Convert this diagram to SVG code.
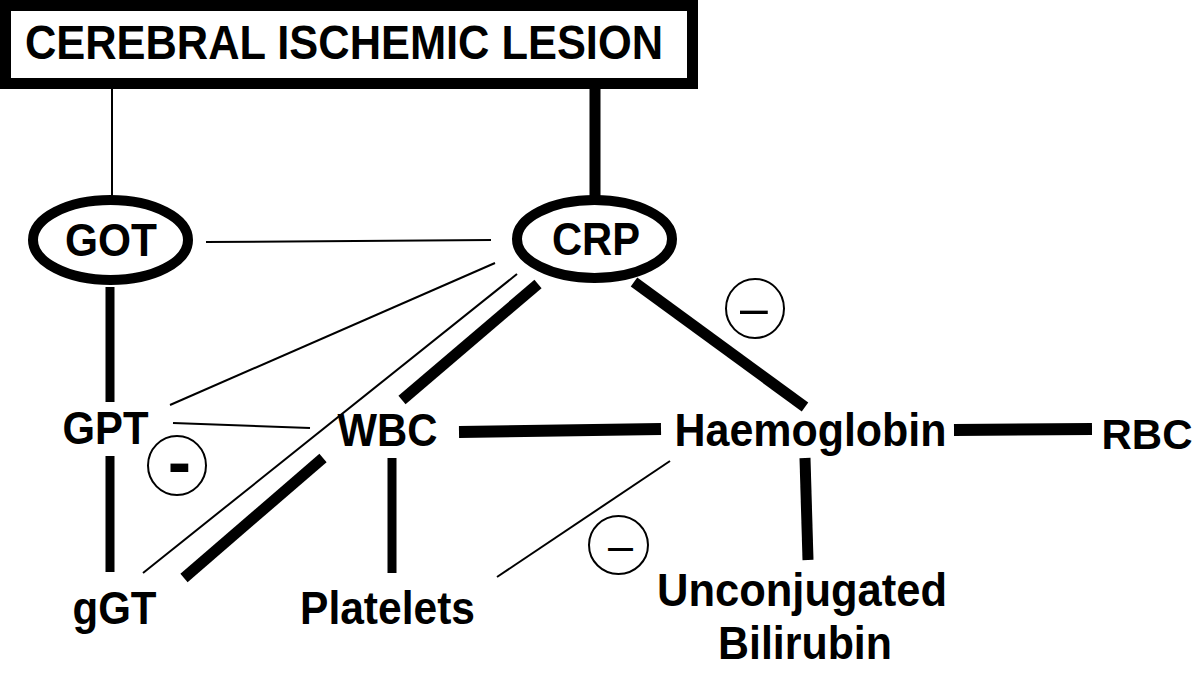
<svg xmlns="http://www.w3.org/2000/svg" width="1200" height="675" viewBox="0 0 1200 675">
<style>
.lbl{font-family:"Liberation Sans",Arial,sans-serif;font-weight:bold;fill:#000;text-anchor:middle}
.thin{stroke:#000;stroke-width:2;fill:none}
.thick{stroke:#000;fill:none}
.oval{fill:#fff;stroke:#000;stroke-width:10}
.sign{fill:#fff;stroke:#000;stroke-width:2}
.dash{font-family:"Liberation Sans",Arial,sans-serif;fill:#000;text-anchor:middle}
</style>
<rect width="1200" height="675" fill="#fff"/>
<g id="connectors">
  <line class="thin" x1="112" y1="89" x2="112" y2="196"/>
  <line class="thick" stroke-width="11" x1="595" y1="89" x2="595" y2="196"/>
  <line class="thin" x1="206" y1="242" x2="491" y2="240"/>
  <line class="thin" x1="170" y1="405" x2="495" y2="263"/>
  <line class="thin" x1="173" y1="423" x2="310" y2="428"/>
  <line class="thin" x1="143" y1="573" x2="517" y2="274"/>
  <line class="thin" x1="497" y1="577" x2="670" y2="461"/>
  <line class="thick" stroke-width="9" x1="110" y1="287" x2="110" y2="402"/>
  <line class="thick" stroke-width="9" x1="110" y1="456" x2="110" y2="572"/>
  <line class="thick" stroke-width="11" x1="538" y1="284" x2="402" y2="400"/>
  <line class="thick" stroke-width="11" x1="323" y1="458" x2="184" y2="578"/>
  <line class="thick" stroke-width="11" x1="634" y1="282" x2="805" y2="407"/>
  <line class="thick" stroke-width="12" x1="459" y1="432" x2="661" y2="429"/>
  <line class="thick" stroke-width="12" x1="954" y1="430" x2="1092" y2="429"/>
  <line class="thick" stroke-width="9" x1="392" y1="458" x2="392" y2="573"/>
  <line class="thick" stroke-width="11" x1="805" y1="458" x2="808" y2="560"/>
</g>
<g id="title">
  <rect x="5.5" y="5.5" width="687" height="78" fill="#fff" stroke="#000" stroke-width="11"/>
  <text class="lbl" x="344" y="59" font-size="48" textLength="638" lengthAdjust="spacingAndGlyphs">CEREBRAL ISCHEMIC LESION</text>
</g>
<g id="got">
  <ellipse class="oval" cx="110.5" cy="240" rx="77.5" ry="40"/>
  <text class="lbl" x="111" y="256" font-size="46" textLength="92" lengthAdjust="spacingAndGlyphs">GOT</text>
</g>
<g id="crp">
  <ellipse class="oval" cx="594.5" cy="239" rx="77.5" ry="39"/>
  <text class="lbl" x="596" y="255" font-size="46" textLength="88" lengthAdjust="spacingAndGlyphs">CRP</text>
</g>
<g id="gpt"><text class="lbl" x="105.5" y="444" font-size="46" textLength="86" lengthAdjust="spacingAndGlyphs">GPT</text></g>
<g id="wbc"><text class="lbl" x="387.5" y="446" font-size="46" textLength="100" lengthAdjust="spacingAndGlyphs">WBC</text></g>
<g id="haemoglobin"><text class="lbl" x="810.5" y="446" font-size="47" textLength="272" lengthAdjust="spacingAndGlyphs">Haemoglobin</text></g>
<g id="rbc"><text class="lbl" x="1147" y="449" font-size="42">RBC</text></g>
<g id="ggt"><text class="lbl" x="114.5" y="624" font-size="46" textLength="84" lengthAdjust="spacingAndGlyphs">gGT</text></g>
<g id="platelets"><text class="lbl" x="387.5" y="624" font-size="46" textLength="175" lengthAdjust="spacingAndGlyphs">Platelets</text></g>
<g id="bilirubin">
  <text class="lbl" x="802" y="606" font-size="47" textLength="290" lengthAdjust="spacingAndGlyphs">Unconjugated</text>
  <text class="lbl" x="805" y="659" font-size="47" textLength="174" lengthAdjust="spacingAndGlyphs">Bilirubin</text>
</g>
<g id="sign1">
  <ellipse class="sign" cx="177" cy="465.5" rx="29" ry="29.5"/>
  <text class="dash" x="179.5" y="486" font-size="70" font-weight="bold">-</text>
</g>
<g id="sign2">
  <ellipse class="sign" cx="755" cy="308.5" rx="29" ry="29.5"/>
  <text class="dash" x="754" y="325" font-size="50">–</text>
</g>
<g id="sign3">
  <ellipse class="sign" cx="618.5" cy="545" rx="29.5" ry="29"/>
  <text class="dash" x="620.5" y="561" font-size="45">–</text>
</g>
</svg>
